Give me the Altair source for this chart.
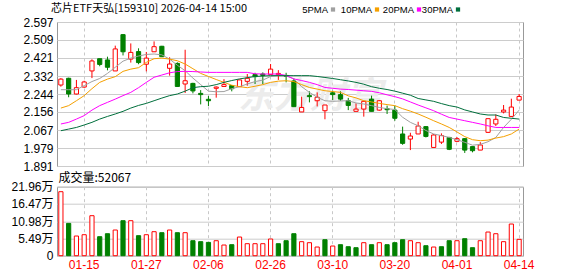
import altair as alt
import pandas as pd

# ---------------- data ----------------
title_text = "芯片ETF天弘[159310] 2026-04-14 15:00"
vol_title = "成交量:52067"
watermark = "东方财富"

dates = [
    "2026-01-12", "2026-01-13", "2026-01-14", "2026-01-15", "2026-01-16",
    "2026-01-19", "2026-01-20", "2026-01-21", "2026-01-22", "2026-01-23",
    "2026-01-26", "2026-01-27", "2026-01-28", "2026-01-29", "2026-01-30",
    "2026-02-02", "2026-02-03", "2026-02-04", "2026-02-05", "2026-02-06",
    "2026-02-09", "2026-02-10", "2026-02-11", "2026-02-12", "2026-02-13",
    "2026-02-24", "2026-02-25", "2026-02-26", "2026-02-27", "2026-03-02",
    "2026-03-03", "2026-03-04", "2026-03-05", "2026-03-06", "2026-03-09",
    "2026-03-10", "2026-03-11", "2026-03-12", "2026-03-13", "2026-03-16",
    "2026-03-17", "2026-03-18", "2026-03-19", "2026-03-20", "2026-03-23",
    "2026-03-24", "2026-03-25", "2026-03-26", "2026-03-27", "2026-03-30",
    "2026-03-31", "2026-04-01", "2026-04-02", "2026-04-03", "2026-04-07",
    "2026-04-08", "2026-04-09", "2026-04-10", "2026-04-13", "2026-04-14",
]

opens = [2.288, 2.321, 2.244, 2.278, 2.357, 2.417, 2.411, 2.357, 2.535, 2.415,
         2.452, 2.390, 2.451, 2.478, 2.370, 2.394, 2.293, 2.296, 2.247, 2.218,
         2.272, 2.281, 2.285, 2.280, 2.306, 2.339, 2.342, 2.339, 2.339, 2.335,
         2.308, 2.156, 2.236, 2.211, 2.162, 2.250, 2.241, 2.211, 2.159, 2.170,
         2.219, 2.165, 2.172, 2.165, 2.048, 2.023, 2.048, 2.084, 1.982, 2.008,
         2.031, 2.012, 2.025, 1.986, 1.969, 2.056, 2.097, 2.156, 2.134, 2.214]
highs = [2.322, 2.324, 2.313, 2.309, 2.414, 2.417, 2.427, 2.481, 2.538, 2.492,
         2.468, 2.450, 2.502, 2.480, 2.424, 2.399, 2.461, 2.299, 2.263, 2.234,
         2.281, 2.317, 2.288, 2.313, 2.342, 2.348, 2.350, 2.391, 2.361, 2.348,
         2.320, 2.231, 2.257, 2.252, 2.190, 2.260, 2.257, 2.225, 2.198, 2.211,
         2.236, 2.214, 2.187, 2.187, 2.084, 2.054, 2.108, 2.087, 2.048, 2.051,
         2.034, 2.033, 2.028, 1.986, 2.008, 2.123, 2.144, 2.190, 2.221, 2.244]
lows = [2.280, 2.228, 2.242, 2.275, 2.322, 2.380, 2.360, 2.357, 2.433, 2.398,
        2.390, 2.355, 2.451, 2.427, 2.334, 2.281, 2.249, 2.247, 2.193, 2.185,
        2.226, 2.281, 2.257, 2.280, 2.285, 2.293, 2.293, 2.339, 2.313, 2.301,
        2.180, 2.156, 2.203, 2.183, 2.120, 2.214, 2.211, 2.165, 2.159, 2.133,
        2.159, 2.162, 2.146, 2.113, 1.995, 1.969, 2.048, 2.031, 1.982, 1.999,
        1.969, 2.008, 1.955, 1.958, 1.969, 2.053, 2.087, 2.149, 2.131, 2.214]
closes = [2.317, 2.244, 2.275, 2.303, 2.406, 2.389, 2.375, 2.465, 2.451, 2.448,
          2.398, 2.420, 2.476, 2.427, 2.391, 2.281, 2.309, 2.259, 2.241, 2.211,
          2.278, 2.290, 2.270, 2.313, 2.321, 2.329, 2.335, 2.366, 2.345, 2.331,
          2.182, 2.178, 2.231, 2.228, 2.190, 2.241, 2.219, 2.188, 2.170, 2.208,
          2.159, 2.211, 2.167, 2.125, 2.002, 2.038, 2.087, 2.036, 2.043, 2.040,
          1.973, 2.025, 1.969, 1.966, 1.994, 2.123, 2.120, 2.165, 2.180, 2.232]

ma5 = [2.265, 2.265, 2.265, 2.285, 2.305, 2.320, 2.345, 2.375, 2.405, 2.420,
       2.430, 2.438, 2.440, 2.436, 2.415, 2.385, 2.358, 2.322, 2.290, 2.258,
       2.255, 2.256, 2.270, 2.280, 2.293, 2.305, 2.312, 2.330, 2.334, 2.333,
       2.318, 2.280, 2.252, 2.228, 2.211, 2.208, 2.210, 2.211, 2.200, 2.195,
       2.187, 2.178, 2.172, 2.168, 2.130, 2.105, 2.088, 2.065, 2.048, 2.040,
       2.031, 2.020, 2.007, 1.993, 1.997, 2.010, 2.031, 2.080, 2.120, 2.165]
ma10 = [2.175, 2.187, 2.211, 2.236, 2.270, 2.301, 2.317, 2.329, 2.355, 2.366,
        2.373, 2.399, 2.417, 2.420, 2.415, 2.407, 2.391, 2.368, 2.345, 2.330,
        2.315, 2.301, 2.287, 2.280, 2.275, 2.282, 2.290, 2.301, 2.307, 2.309,
        2.305, 2.290, 2.276, 2.268, 2.260, 2.256, 2.252, 2.235, 2.225, 2.211,
        2.205, 2.198, 2.192, 2.187, 2.172, 2.160, 2.146, 2.130, 2.113, 2.097,
        2.080, 2.058, 2.035, 2.020, 2.015, 2.018, 2.028, 2.035, 2.048, 2.072]
ma20 = [2.097, 2.105, 2.121, 2.138, 2.165, 2.187, 2.203, 2.219, 2.236, 2.252,
        2.275, 2.301, 2.326, 2.337, 2.348, 2.354, 2.355, 2.354, 2.352, 2.350,
        2.350, 2.350, 2.350, 2.350, 2.350, 2.343, 2.342, 2.342, 2.342, 2.335,
        2.318, 2.310, 2.301, 2.290, 2.276, 2.272, 2.268, 2.266, 2.263, 2.260,
        2.257, 2.250, 2.240, 2.231, 2.220, 2.205, 2.190, 2.176, 2.162, 2.145,
        2.129, 2.121, 2.113, 2.105, 2.097, 2.088, 2.080, 2.080, 2.080, 2.080]
ma30 = [2.064, 2.072, 2.080, 2.092, 2.105, 2.121, 2.134, 2.146, 2.159, 2.175,
        2.188, 2.198, 2.211, 2.224, 2.236, 2.244, 2.258, 2.275, 2.280, 2.282,
        2.290, 2.301, 2.310, 2.318, 2.324, 2.330, 2.332, 2.334, 2.334, 2.334,
        2.334, 2.334, 2.334, 2.330, 2.325, 2.320, 2.314, 2.308, 2.301, 2.292,
        2.280, 2.272, 2.266, 2.258, 2.248, 2.238, 2.222, 2.215, 2.208, 2.197,
        2.187, 2.180, 2.166, 2.156, 2.146, 2.141, 2.141, 2.129, 2.125, 2.121]

volumes = [203700, 102900, 62600, 66800, 127300, 60500, 70000, 81700, 111400, 111400,
           63700, 66800, 76400, 73200, 81700, 73200, 73200, 47700, 44600, 42400,
           47700, 34000, 35000, 59400, 38200, 38200, 38200, 53100, 38200, 47700,
           70000, 44600, 41400, 27600, 50900, 30800, 35000, 28600, 25500, 41400,
           35000, 41400, 35000, 41400, 50900, 47700, 41400, 31800, 27600, 28600,
           47700, 47700, 54100, 25500, 47700, 75300, 70000, 44600, 100800, 52067]
# volume bar colour as seen in the picture (R = red hollow, G = green filled)
vol_dir = ["R", "G", "R", "R", "R", "G", "G", "R", "G", "R",
           "G", "R", "R", "G", "R", "G", "R", "G", "G", "G",
           "R", "R", "G", "R", "R", "R", "R", "R", "G", "G",
           "G", "R", "R", "R", "G", "R", "G", "G", "G", "R",
           "G", "R", "G", "G", "G", "R", "R", "G", "R", "G",
           "G", "R", "G", "G", "R", "R", "R", "R", "R", "R"]

price_ticks = [1.891, 1.979, 2.067, 2.156, 2.244, 2.332, 2.421, 2.509, 2.597]
vol_ticks = [0, 54900, 109800, 164700, 219600]
label_dates = ["2026-01-15", "2026-01-27", "2026-02-06", "2026-02-26",
               "2026-03-10", "2026-03-20", "2026-04-01", "2026-04-14"]

ma_names = ["5PMA", "10PMA", "20PMA", "30PMA"]
ma_colors = ["#a0a0a0", "#f5a000", "#ff00ff", "#006f3c"]

RED = "#ff0000"
GREEN = "#008000"

# ---------------- tables ----------------
df = pd.DataFrame({
    "date": dates, "open": opens, "high": highs, "low": lows, "close": closes,
    "vol": volumes,
})
df["dir"] = ["up" if c >= o else "down" for o, c in zip(opens, closes)]
df["vdir"] = ["up" if d == "R" else "down" for d in vol_dir]
df["body_lo"] = [min(o, c) for o, c in zip(opens, closes)]
df["body_hi"] = [max(o, c) for o, c in zip(opens, closes)]

ma_df = pd.concat([
    pd.DataFrame({"date": dates, "value": vals, "series": name})
    for name, vals in zip(ma_names, [ma5, ma10, ma20, ma30])
])

W = 466
PH = 144
VH = 69

xscale = alt.Scale(type="band", domain=dates, paddingInner=0.46, paddingOuter=0.23)
fill_scale = alt.Scale(domain=["up", "down"], range=["#ffffff", GREEN])
stroke_scale = alt.Scale(domain=["up", "down"], range=[RED, GREEN])

x_axis_p = alt.Axis(
    values=label_dates, labels=False, ticks=False, domain=False, grid=True,
    gridDash=[3, 3], gridColor="#c8c8c8", title=None, bandPosition=0.5)
y_axis_p = alt.Axis(
    values=price_ticks, format=".3f", title=None, ticks=False, domain=False,
    grid=True, gridColor="#cccccc", labelPadding=4, labelOverlap=False,
    labelFlush=False, tickCount=9)

pscale = alt.Scale(domain=[1.891, 2.597], nice=False, zero=False)


def xp():
    return alt.X("date:N", scale=xscale, axis=x_axis_p)


def yp(field):
    return alt.Y(field, scale=pscale, axis=y_axis_p)


base = alt.Chart(df)

one = pd.DataFrame({"t": [""]})

# invisible anchor that fixes the top-left corner of the whole picture
anchor = alt.Chart(one).mark_rule(strokeWidth=1, strokeOpacity=0).encode(
    x=alt.value(-56), x2=alt.value(-50), y=alt.value(-20.8))

wm = alt.Chart(pd.DataFrame({"t": [watermark]})).mark_text(
    fontSize=36, fontWeight="bold", fontStyle="italic", color="#ececec",
    font="Noto Sans CJK SC", align="center", baseline="middle"
).encode(x=alt.value(253), y=alt.value(75), text="t:N")

wicks = base.mark_rule(strokeWidth=1).encode(
    x=xp(),
    y=yp("low:Q"),
    y2="high:Q",
    stroke=alt.Stroke("dir:N", scale=stroke_scale, legend=None),
)

bodies = base.mark_bar(strokeWidth=1).encode(
    x=xp(),
    y=yp("body_lo:Q"),
    y2="body_hi:Q",
    fill=alt.Fill("dir:N", scale=fill_scale, legend=None),
    stroke=alt.Stroke("dir:N", scale=stroke_scale, legend=None),
)

lines = alt.Chart(ma_df).mark_line(strokeWidth=1).encode(
    x=xp(),
    y=yp("value:Q"),
    color=alt.Color("series:N", scale=alt.Scale(domain=ma_names, range=ma_colors), legend=None),
    detail="series:N",
)

title_layer = alt.Chart(pd.DataFrame({"t": [title_text]})).mark_text(
    align="left", baseline="middle", fontSize=11, font="Noto Sans CJK SC", color="#000"
).encode(x=alt.value(-6), y=alt.value(-13), text="t:N")

legend_layers = []
sq_x = [276, 320, 362, 401]
for name, col, sx in zip(ma_names, ma_colors, sq_x):
    legend_layers.append(
        alt.Chart(pd.DataFrame({"t": [name]})).mark_text(
            align="right", baseline="middle", fontSize=9.5, font="Liberation Sans", color="#000"
        ).encode(x=alt.value(sx - 5), y=alt.value(-12.5), text="t:N")
    )
    legend_layers.append(
        alt.Chart(pd.DataFrame({"t": [name]})).mark_square(
            size=18, color=col, opacity=1, filled=True
        ).encode(x=alt.value(sx), y=alt.value(-12.5))
    )

price = alt.layer(anchor, wm, wicks, bodies, lines, title_layer, *legend_layers).properties(
    width=W, height=PH)

vol_bars = base.mark_bar(strokeWidth=1).encode(
    x=alt.X("date:N", scale=xscale, axis=alt.Axis(
        values=label_dates, labelExpr="substring(datum.value, 5)", ticks=False,
        domain=False, grid=True, gridDash=[3, 3], gridColor="#c8c8c8", title=None,
        labelColor=RED, labelPadding=4, labelAngle=0, bandPosition=0.5,
        labelOverlap=False)),
    y=alt.Y("vol:Q", scale=alt.Scale(domain=[0, 219600], nice=False), axis=alt.Axis(
        values=vol_ticks, title=None, ticks=False, domain=False, grid=True,
        gridColor="#cccccc", labelPadding=4, labelOverlap=False,
        labelExpr="datum.value == 0 ? '0' : format(datum.value / 10000, '.2f') + '万'")),
    fill=alt.Fill("vdir:N", scale=fill_scale, legend=None),
    stroke=alt.Stroke("vdir:N", scale=stroke_scale, legend=None),
)

vol_title_layer = alt.Chart(pd.DataFrame({"t": [vol_title]})).mark_text(
    align="left", baseline="middle", fontSize=12, font="Noto Sans CJK SC", color="#000"
).encode(x=alt.value(1.5), y=alt.value(-8.5), text="t:N")

volume = alt.layer(vol_bars, vol_title_layer).properties(width=W, height=VH)

chart = alt.vconcat(price, volume, spacing=20.7, bounds="flush").properties(
    padding=0,
    background="#ffffff",
).configure_view(
    stroke="#999999", strokeWidth=1
).configure_axis(
    labelFont="Liberation Sans, Noto Sans CJK SC", labelFontSize=12, labelColor="#000"
)

chart.save("out.html", embed_options={"renderer": "svg", "actions": False})
